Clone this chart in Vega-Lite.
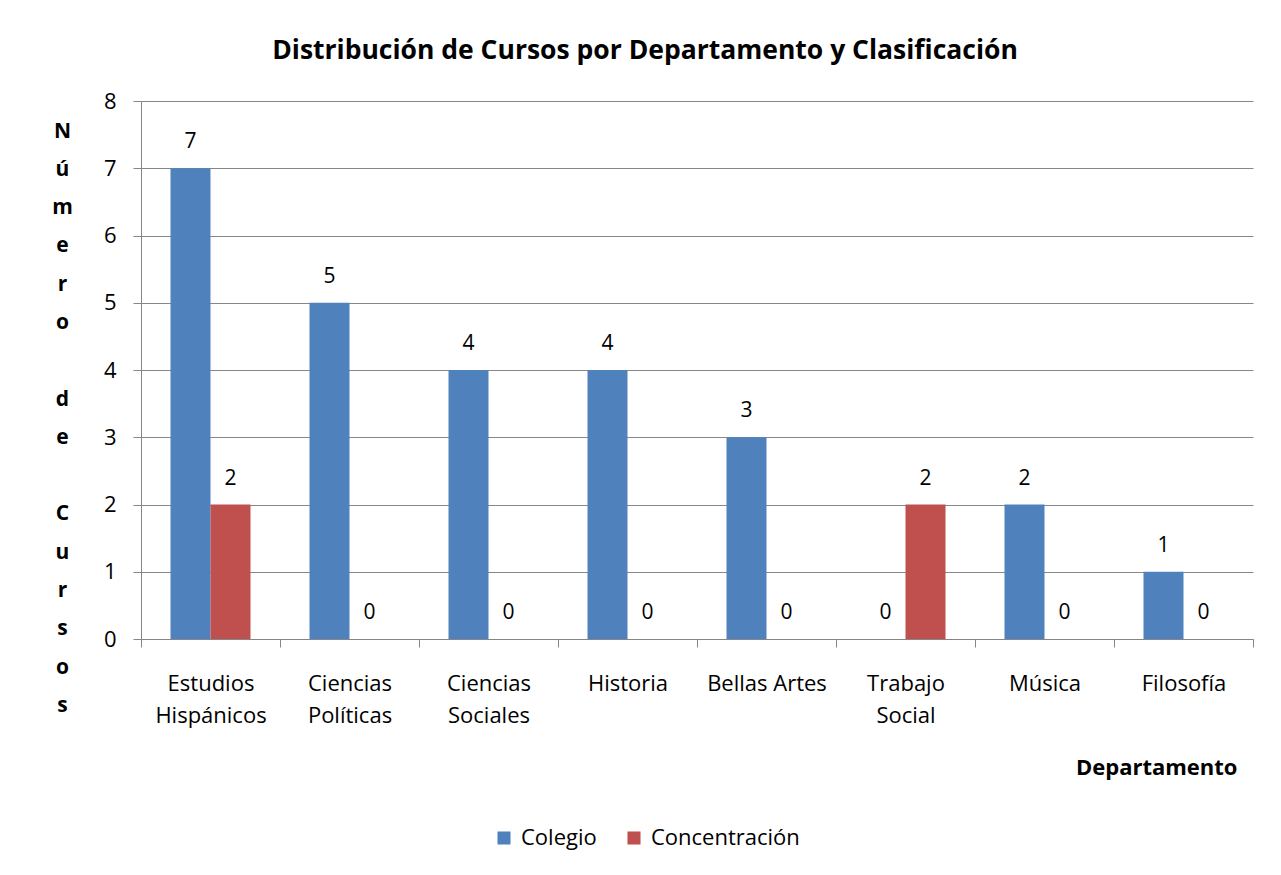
{
  "$schema": "https://vega.github.io/schema/vega-lite/v6.json",
  "width": 1112,
  "height": 538,
  "autosize": {"type": "none"},
  "padding": {"left": 141, "top": 101, "right": 28, "bottom": 236},
  "background": "white",
  "config": {"view": {"stroke": null}, "font": "Open Sans"},
  "title": {
    "text": "Distribución de Cursos por Departamento y Clasificación",
    "font": "Open Sans",
    "fontSize": 26.5,
    "fontWeight": "bold",
    "color": "#000000",
    "anchor": "middle",
    "dx": -52,
    "offset": 26
  },
  "data": {
    "values": [
      {"Departamento": "Estudios Hispánicos", "Clasificacion": "Colegio", "Cursos": 7},
      {"Departamento": "Estudios Hispánicos", "Clasificacion": "Concentración", "Cursos": 2},
      {"Departamento": "Ciencias Políticas", "Clasificacion": "Colegio", "Cursos": 5},
      {"Departamento": "Ciencias Políticas", "Clasificacion": "Concentración", "Cursos": 0},
      {"Departamento": "Ciencias Sociales", "Clasificacion": "Colegio", "Cursos": 4},
      {"Departamento": "Ciencias Sociales", "Clasificacion": "Concentración", "Cursos": 0},
      {"Departamento": "Historia", "Clasificacion": "Colegio", "Cursos": 4},
      {"Departamento": "Historia", "Clasificacion": "Concentración", "Cursos": 0},
      {"Departamento": "Bellas Artes", "Clasificacion": "Colegio", "Cursos": 3},
      {"Departamento": "Bellas Artes", "Clasificacion": "Concentración", "Cursos": 0},
      {"Departamento": "Trabajo Social", "Clasificacion": "Colegio", "Cursos": 0},
      {"Departamento": "Trabajo Social", "Clasificacion": "Concentración", "Cursos": 2},
      {"Departamento": "Música", "Clasificacion": "Colegio", "Cursos": 2},
      {"Departamento": "Música", "Clasificacion": "Concentración", "Cursos": 0},
      {"Departamento": "Filosofía", "Clasificacion": "Colegio", "Cursos": 1},
      {"Departamento": "Filosofía", "Clasificacion": "Concentración", "Cursos": 0}
    ]
  },
  "encoding": {
    "x": {
      "field": "Departamento",
      "type": "nominal",
      "sort": null,
      "scale": {"paddingInner": 0, "paddingOuter": 0},
      "axis": {
        "title": "Departamento",
        "titleFont": "Open Sans",
        "titleFontSize": 22,
        "titleFontWeight": "bold",
        "titleColor": "#000000",
        "titleX": 1096,
        "titleY": 128,
        "titleAlign": "right",
        "titleBaseline": "middle",
        "labelAngle": 0,
        "labelFont": "Open Sans",
        "labelFontSize": 22,
        "labelColor": "#000000",
        "labelPadding": 26,
        "labelLineHeight": 32,
        "labelBaseline": "top",
        "labelExpr": "datum.label == 'Bellas Artes' ? datum.label : split(datum.label, ' ')",
        "tickBand": "extent",
        "tickSize": 8,
        "tickColor": "#868686",
        "domainColor": "#868686",
        "grid": false
      }
    },
    "xOffset": {
      "field": "Clasificacion",
      "type": "nominal",
      "sort": ["Colegio", "Concentración"],
      "scale": {"paddingInner": 0, "paddingOuter": 0.7375}
    },
    "y": {
      "field": "Cursos",
      "type": "quantitative",
      "scale": {"domain": [0, 8]},
      "axis": {
        "values": [0, 1, 2, 3, 4, 5, 6, 7, 8],
        "grid": true,
        "gridColor": "#878787",
        "domainColor": "#868686",
        "tickColor": "#868686",
        "tickSize": 8,
        "labelFont": "Open Sans",
        "labelFontSize": 22,
        "labelColor": "#000000",
        "labelPadding": 17,
        "title": ["N", "ú", "m", "e", "r", "o", "\u2800", "d", "e", "\u2800", "C", "u", "r", "s", "o", "s"],
        "titleAngle": 0,
        "titleFont": "Open Sans",
        "titleFontSize": 21,
        "titleFontWeight": "bold",
        "titleColor": "#000000",
        "titleLineHeight": 38.3,
        "titleX": -79,
        "titleY": 19,
        "titleAlign": "center",
        "titleBaseline": "top"
      }
    }
  },
  "layer": [
    {
      "mark": {"type": "bar"},
      "encoding": {
        "color": {
          "field": "Clasificacion",
          "type": "nominal",
          "scale": {"domain": ["Colegio", "Concentración"], "range": ["#4F81BD", "#C0504D"]},
          "legend": {
            "title": null,
            "orient": "none",
            "legendX": 352,
            "legendY": 726,
            "direction": "horizontal",
            "symbolType": "square",
            "symbolSize": 170,
            "symbolStrokeWidth": 0,
            "labelFont": "Open Sans",
            "labelFontSize": 22,
            "labelColor": "#000000",
            "labelOffset": 6,
            "columnPadding": 26
          }
        }
      }
    },
    {
      "mark": {"type": "text", "dy": -20, "baseline": "alphabetic", "fontSize": 21, "font": "Open Sans", "color": "#000000"},
      "encoding": {"text": {"field": "Cursos", "type": "quantitative"}}
    }
  ]
}
